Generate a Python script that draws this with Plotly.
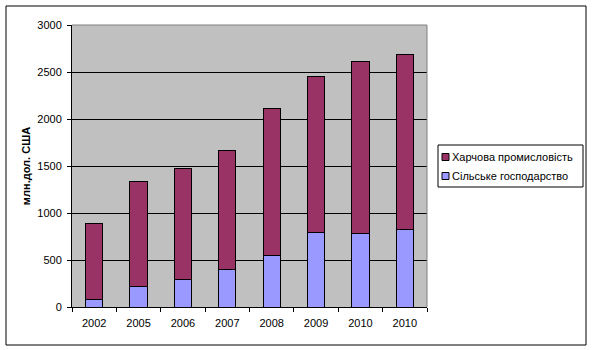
import plotly.graph_objects as go

# Export of agrifood products, mln USD
years = ["2002", "2005", "2006", "2007", "2008", "2009", "2010", "2010"]
agriculture = [80, 220, 295, 400, 550, 795, 780, 825]
food_industry = [810, 1120, 1180, 1270, 1565, 1655, 1835, 1865]

name_food = "Харчова промисловість"
name_agri = "Сільське господарство"
color_food = "#993366"
color_agri = "#9999FF"

y_ticks = [0, 500, 1000, 1500, 2000, 2500, 3000]

FONT = "Arial, Liberation Sans, sans-serif"
W, H = 592, 350
L, R, T, B = 72, 165, 25, 43
pw, ph = W - L - R, H - T - B

pos = list(range(len(years)))

fig = go.Figure()
fig.add_trace(go.Bar(x=pos, y=agriculture, name=name_agri, width=0.39,
                     marker=dict(color=color_agri, line=dict(color="black", width=1)),
                     showlegend=False))
fig.add_trace(go.Bar(x=pos, y=food_industry, name=name_food, width=0.39,
                     marker=dict(color=color_food, line=dict(color="black", width=1)),
                     showlegend=False))


def px_x(x):
    return (x - L) / pw


def px_y(y):
    return (H - B - y) / ph


shapes = [
    # outer chart frame
    dict(type="rect", xref="paper", yref="paper",
         x0=px_x(6), x1=px_x(586), y0=px_y(345), y1=px_y(6),
         line=dict(color="black", width=1), layer="below"),
    # top and right edges of the plot area
    dict(type="line", xref="paper", yref="paper", x0=0, x1=1, y0=1, y1=1,
         line=dict(color="#808080", width=1)),
    dict(type="line", xref="paper", yref="paper", x0=1, x1=1, y0=0, y1=1,
         line=dict(color="#808080", width=1)),
    # legend box
    dict(type="rect", xref="paper", yref="paper",
         x0=px_x(438), x1=px_x(583), y0=px_y(187), y1=px_y(145),
         line=dict(color="black", width=1), fillcolor="white"),
]
annotations = []
for (label, col, cy) in [(name_food, color_food, 157), (name_agri, color_agri, 176)]:
    shapes.append(dict(type="rect", xref="paper", yref="paper",
                       x0=px_x(442), x1=px_x(449), y0=px_y(cy + 3.5), y1=px_y(cy - 3.5),
                       line=dict(color="black", width=1), fillcolor=col))
    annotations.append(dict(text=label, xref="paper", yref="paper",
                            x=px_x(450), y=px_y(cy), xanchor="left", yanchor="middle",
                            showarrow=False, font=dict(family=FONT, size=11, color="black")))

fig.update_layout(
    width=W, height=H,
    margin=dict(l=L, r=R, t=T, b=B, pad=0),
    paper_bgcolor="white",
    plot_bgcolor="#C0C0C0",
    barmode="stack",
    bargap=0.61,
    font=dict(family=FONT, size=11, color="black"),
    shapes=shapes,
    annotations=annotations,
    xaxis=dict(
        range=[-0.5, len(years) - 0.5],
        tickmode="array", tickvals=pos, ticktext=years,
        ticks="", showgrid=False, zeroline=False,
        showline=True, linecolor="black", linewidth=1,
        ticklabelstandoff=6,
        tickfont=dict(family=FONT, size=11, color="black"),
        minor=dict(tick0=-0.5, dtick=1, ticks="outside", ticklen=4,
                   tickcolor="black", tickwidth=1, showgrid=False),
    ),
    yaxis=dict(
        range=[0, 3000], tickvals=y_ticks,
        ticks="outside", ticklen=4, tickcolor="black",
        showgrid=True, gridcolor="black", gridwidth=1,
        zeroline=False, showline=True, linecolor="black", linewidth=1,
        ticklabelstandoff=3,
        tickfont=dict(family=FONT, size=11, color="black"),
        title=dict(text="<b>млн.дол. США</b>", standoff=4,
                   font=dict(family=FONT, size=11, color="black")),
    ),
)

fig.write_html("out.html")
